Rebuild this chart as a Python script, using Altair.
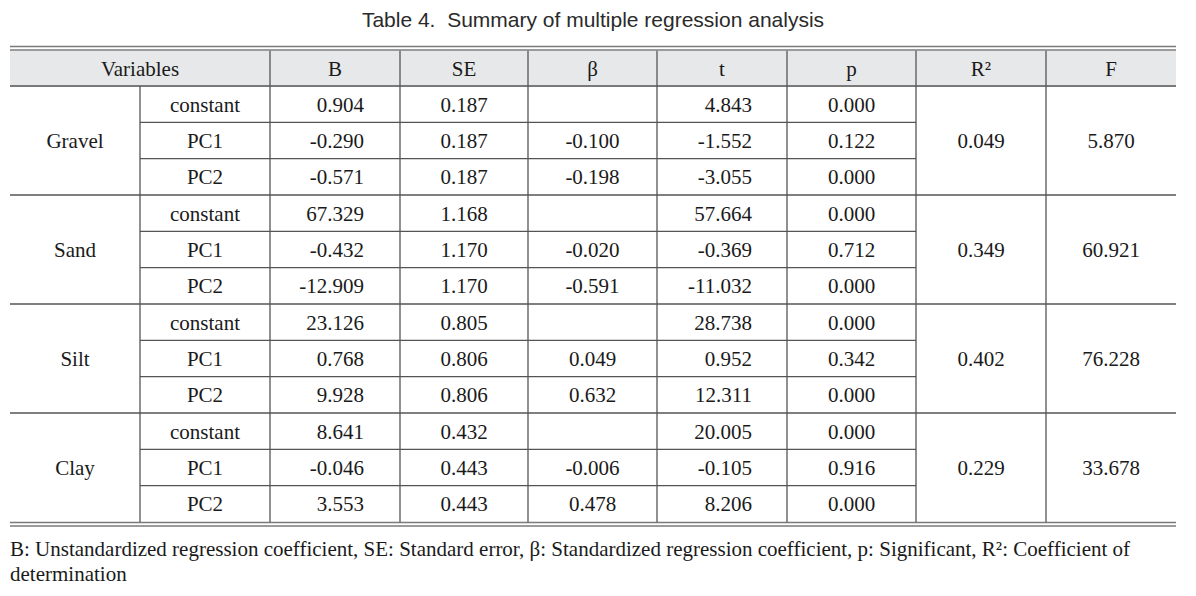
import altair as alt
import pandas as pd

# ---------------- data ----------------
title_text = "Table 4.\u00a0\u00a0Summary of multiple regression analysis"
headers = ["Variables", "B", "SE", "β", "t", "p", "R²", "F"]
groups = ["Gravel", "Sand", "Silt", "Clay"]
terms = ["constant", "PC1", "PC2"]
B = [0.904, -0.290, -0.571, 67.329, -0.432, -12.909, 23.126, 0.768, 9.928, 8.641, -0.046, 3.553]
SE = [0.187, 0.187, 0.187, 1.168, 1.170, 1.170, 0.805, 0.806, 0.806, 0.432, 0.443, 0.443]
beta = [None, -0.100, -0.198, None, -0.020, -0.591, None, 0.049, 0.632, None, -0.006, 0.478]
t_val = [4.843, -1.552, -3.055, 57.664, -0.369, -11.032, 28.738, 0.952, 12.311, 20.005, -0.105, 8.206]
p_val = [0.000, 0.122, 0.000, 0.000, 0.712, 0.000, 0.000, 0.342, 0.000, 0.000, 0.916, 0.000]
R2 = [0.049, 0.349, 0.402, 0.229]
F = [5.870, 60.921, 76.228, 33.678]
footnote = [
    "B: Unstandardized regression coefficient, SE: Standard error, β: Standardized regression coefficient, p: Significant, R²: Coefficient of",
    "determination",
]

# ---------------- layout (page pixel coordinates) ----------------
col_edges = [10, 140, 270, 400, 528, 657, 787, 916, 1046, 1176]
top_rule = [46.5, 50.0]
head_top, head_bot = 50.7, 86.0
data_bot = 522.0
n_rows = 12
row_h = (data_bot - head_bot) / n_rows
bottom_rule = [522.5, 526.0]

def fmt(v):
    return "" if v is None else f"{v:.3f}"

def row_mid(i):
    return head_bot + (i + 0.5) * row_h

def mid(a, b):
    return (a + b) / 2

cells = []  # x, y, text, align
cells.append((mid(col_edges[0], col_edges[2]), mid(head_top, head_bot), headers[0], "center"))
for k, h in enumerate(headers[1:]):
    cells.append((mid(col_edges[k + 2], col_edges[k + 3]), mid(head_top, head_bot), h, "center"))

for g, gname in enumerate(groups):
    gmid = head_bot + (g * 3 + 1.5) * row_h
    cells.append((mid(col_edges[0], col_edges[1]), gmid, gname, "center"))
    cells.append((mid(col_edges[7], col_edges[8]), gmid, fmt(R2[g]), "center"))
    cells.append((mid(col_edges[8], col_edges[9]), gmid, fmt(F[g]), "center"))
    for j, term in enumerate(terms):
        i = g * 3 + j
        y = row_mid(i)
        cells.append((mid(col_edges[1], col_edges[2]), y, term, "center"))
        cells.append((col_edges[3] - 36, y, fmt(B[i]), "right"))
        cells.append((mid(col_edges[3], col_edges[4]), y, fmt(SE[i]), "center"))
        cells.append((mid(col_edges[4], col_edges[5]), y, fmt(beta[i]), "center"))
        cells.append((col_edges[6] - 35, y, fmt(t_val[i]), "right"))
        cells.append((mid(col_edges[6], col_edges[7]), y, fmt(p_val[i]), "center"))

cells_df = pd.DataFrame(cells, columns=["x", "y", "text", "align"])

rules = []
for yy in top_rule:
    rules.append((col_edges[0], col_edges[-1], yy, yy, "#7a7a7a", 1.4))
rules.append((col_edges[0], col_edges[-1], head_bot, head_bot, "#7a7a7a", 2.0))
for i in range(1, n_rows):
    yy = head_bot + i * row_h
    if i % 3 == 0:
        rules.append((col_edges[0], col_edges[-1], yy, yy, "#555555", 1.3))
    else:
        rules.append((col_edges[1], col_edges[7], yy, yy, "#555555", 1.3))
for yy in bottom_rule:
    rules.append((col_edges[0], col_edges[-1], yy, yy, "#7a7a7a", 1.4))
rules.append((col_edges[1], col_edges[1], head_bot, data_bot, "#555555", 1.3))
for xx in col_edges[2:-1]:
    rules.append((xx, xx, head_top, data_bot, "#555555", 1.3))
rules_df = pd.DataFrame(rules, columns=["x", "x2", "y", "y2", "color", "w"])

header_df = pd.DataFrame([{"x": col_edges[0], "x2": col_edges[-1], "y": head_top, "y2": head_bot}])
title_df = pd.DataFrame([{"x": 593, "y": 20, "text": title_text}])
foot_df = pd.DataFrame([{"x": 10, "y": 550, "text": footnote[0]}, {"x": 10, "y": 575, "text": footnote[1]}])

W, H = 1180, 580
xs = alt.Scale(domain=[8, 8 + W], range=[0, W])
ys = alt.Scale(domain=[8, 8 + H], range=[0, H])
X = lambda f="x": alt.X(f"{f}:Q", scale=xs, axis=None)
Y = lambda f="y": alt.Y(f"{f}:Q", scale=ys, axis=None)

header_bg = alt.Chart(header_df).mark_rect(color="#e7e8e9").encode(
    x=X(), x2="x2:Q", y=Y(), y2="y2:Q"
)
lines = alt.Chart(rules_df).mark_rule().encode(
    x=X(), x2="x2:Q", y=Y(), y2="y2:Q",
    color=alt.Color("color:N", scale=None),
    strokeWidth=alt.StrokeWidth("w:Q", scale=None),
)

serif = "Liberation Serif"

def text_layer(align):
    return alt.Chart(cells_df[cells_df["align"] == align]).mark_text(
        font=serif, fontSize=21, color="#1a1a1a", align=align, baseline="middle", dy=1.5
    ).encode(x=X(), y=Y(), text="text:N")

title = alt.Chart(title_df).mark_text(
    font="Liberation Sans", fontSize=21, color="#2a2a2a", align="center", baseline="middle", dy=1
).encode(x=X(), y=Y(), text="text:N")

foot = alt.Chart(foot_df).mark_text(
    font=serif, fontSize=21, color="#1a1a1a", align="left", baseline="middle"
).encode(x=X(), y=Y(), text="text:N")

chart = alt.layer(
    header_bg, lines, text_layer("center"), text_layer("right"), title, foot
).properties(width=W, height=H, padding=0).configure_view(stroke=None)

chart.save("out.html", embed_options={"renderer": "svg", "actions": False})
